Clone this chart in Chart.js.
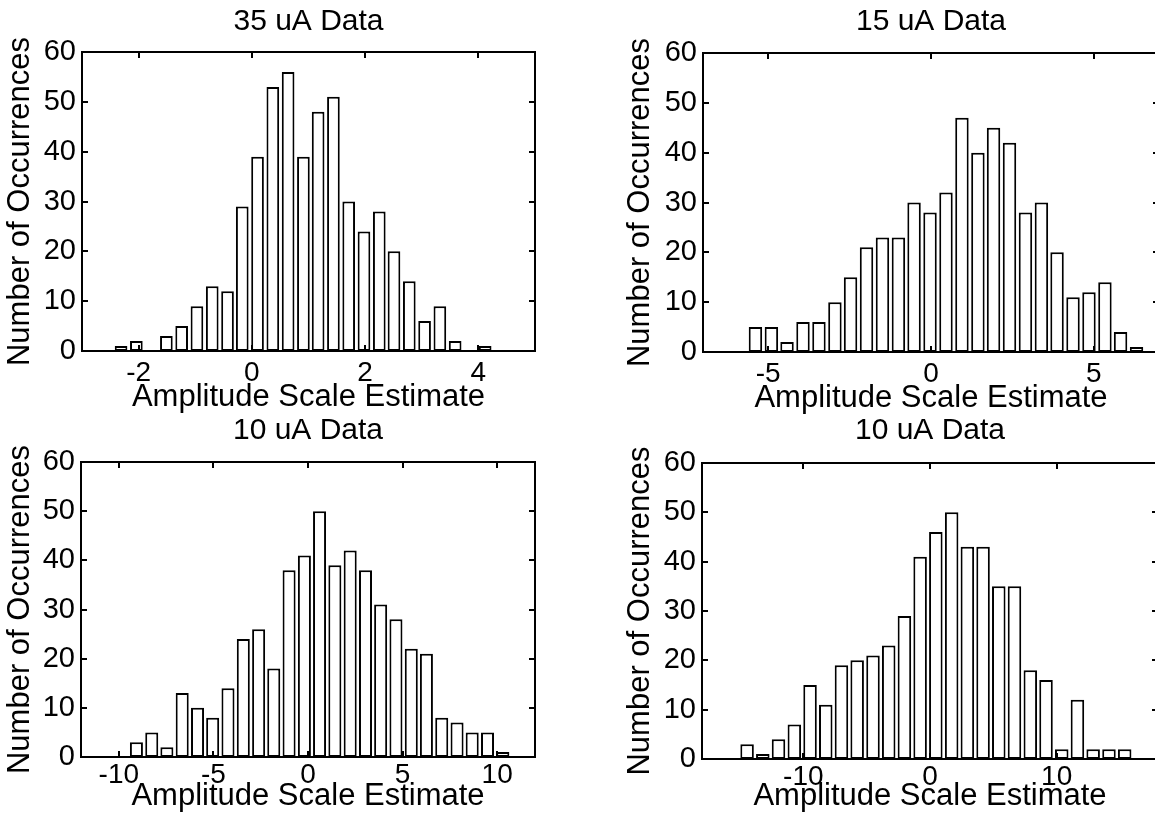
<!DOCTYPE html>
<html>
<head>
<meta charset="utf-8">
<script src="https://cdn.jsdelivr.net/npm/chart.js@4/dist/chart.umd.min.js"></script>
<style>
    html, body { margin: 0; padding: 0; background: #fff; overflow: hidden; }
    body { width: 1155px; height: 823px; position: relative; }
    canvas { position: absolute; }
</style>
</head>
<body>
<canvas id="p35" width="580" height="430"></canvas>
<canvas id="p15" width="580" height="430"></canvas>
<canvas id="p10a" width="580" height="430"></canvas>
<canvas id="p10b" width="580" height="430"></canvas>
<script>
// shared labels
const xLabel = 'Amplitude Scale Estimate';
const yLabel = 'Number of Occurrences';
const yTicks = [0, 10, 20, 30, 40, 50, 60];

// 35 uA
const title35 = '35 uA Data';
const centers35 = [-2.31, -2.04, -1.77, -1.51, -1.24, -0.97, -0.70, -0.43, -0.17, 0.10, 0.37, 0.64, 0.91,
    1.17, 1.44, 1.71, 1.98, 2.25, 2.51, 2.78, 3.05, 3.32, 3.59, 3.85, 4.12];
const counts35 = [1, 2, 0, 3, 5, 9, 13, 12, 29, 39, 53, 56, 39, 48, 51, 30, 24, 28, 20, 14, 6, 9, 2, 0, 1];
const xTicks35 = [-2, 0, 2, 4];
const xRange35 = [-3, 5];

// 15 uA
const title15 = '15 uA Data';
const centers15 = [-5.39, -4.90, -4.42, -3.93, -3.44, -2.95, -2.47, -1.98, -1.49, -1.00, -0.52, -0.03, 0.46,
    0.95, 1.44, 1.92, 2.41, 2.90, 3.39, 3.87, 4.36, 4.85, 5.34, 5.82, 6.31];
const counts15 = [5, 5, 2, 6, 6, 10, 15, 21, 23, 23, 30, 28, 32, 47, 40, 45, 42, 28, 30, 20, 11, 12, 14, 4, 1];
const xTicks15 = [-5, 0, 5];
const xRange15 = [-7, 7];

// 10 uA (first)
const title10a = '10 uA Data';
const centers10a = [-9.07, -8.26, -7.46, -6.65, -5.84, -5.04, -4.23, -3.42, -2.61, -1.81, -1.00, -0.19, 0.61,
    1.42, 2.23, 3.04, 3.84, 4.65, 5.46, 6.26, 7.07, 7.88, 8.68, 9.49, 10.30];
const counts10a = [3, 5, 2, 13, 10, 8, 14, 24, 26, 18, 38, 41, 50, 39, 42, 38, 31, 28, 22, 21, 8, 7, 5, 5, 1];
const xTicks10a = [-10, -5, 0, 5, 10];
const xRange10a = [-12, 12];

// 10 uA (second)
const title10b = '10 uA Data';
const centers10b = [-14.44, -13.20, -11.96, -10.71, -9.47, -8.23, -6.99, -5.75, -4.50, -3.26, -2.02, -0.78, 0.46,
    1.71, 2.95, 4.19, 5.43, 6.67, 7.92, 9.16, 10.40, 11.64, 12.88, 14.13, 15.37];
const counts10b = [3, 1, 4, 7, 15, 11, 19, 20, 21, 23, 29, 41, 46, 50, 43, 43, 35, 35, 18, 16, 2, 12, 2, 2, 2];
const xTicks10b = [-10, 0, 10];
const xRange10b = [-18, 18];

Chart.defaults.font.family = "'Liberation Sans', Arial, Helvetica, sans-serif";
Chart.defaults.color = '#000';

// box round the axes with inward ticks on all four sides
const boxPlugin = {
    id: 'box',
    afterDatasetsDraw(chart) {
        const { ctx, chartArea: a, scales: { x, y } } = chart;
        ctx.save();
        ctx.strokeStyle = '#000';
        ctx.lineWidth = 2;
        ctx.strokeRect(a.left, a.top, a.right - a.left, a.bottom - a.top);
        ctx.beginPath();
        x.ticks.forEach(t => {
            const px = Math.round(x.getPixelForValue(t.value));
            ctx.moveTo(px, a.bottom); ctx.lineTo(px, a.bottom - 6);
            ctx.moveTo(px, a.top); ctx.lineTo(px, a.top + 6);
        });
        y.ticks.forEach(t => {
            const py = Math.round(y.getPixelForValue(t.value));
            ctx.moveTo(a.left, py); ctx.lineTo(a.left + 6, py);
            ctx.moveTo(a.right, py); ctx.lineTo(a.right - 6, py);
        });
        ctx.stroke();
        ctx.restore();
    }
};

function makeHist(id, cfg) {
    const el = document.getElementById(id);
    el.style.left = cfg.left + 'px';
    el.style.top = cfg.top + 'px';

    const points = cfg.centers.map((c, i) => ({ x: c, y: cfg.counts[i] }));

    return new Chart(el, {
        type: 'bar',
        data: {
            datasets: [{
                data: points,
                backgroundColor: '#fff',
                borderColor: '#000',
                borderWidth: 2,
                borderSkipped: false,
                barPercentage: 0.86,
                categoryPercentage: 1
            }]
        },
        options: {
            responsive: false,
            animation: false,
            layout: { padding: { left: 0, top: 0, right: cfg.padRight, bottom: cfg.padBottom } },
            plugins: {
                legend: { display: false },
                tooltip: { enabled: false },
                title: {
                    display: true,
                    text: cfg.title,
                    fullSize: false,
                    font: { size: 30, weight: 'normal', lineHeight: 1 },
                    padding: { top: cfg.titleTop, bottom: cfg.titleBottom }
                }
            },
            scales: {
                x: {
                    type: 'linear',
                    min: cfg.range[0],
                    max: cfg.range[1],
                    offset: false,
                    grid: { display: false, drawTicks: false, offset: false },
                    border: { display: false },
                    afterBuildTicks: s => { s.ticks = cfg.ticks.map(v => ({ value: v })); },
                    afterFit: s => { s.height = cfg.xHeight; },
                    ticks: { font: { size: 28, lineHeight: 1 }, padding: cfg.xTickPad, maxRotation: 0 },
                    title: {
                        display: true,
                        text: xLabel,
                        font: { size: 31, lineHeight: 1 },
                        padding: 0
                    }
                },
                y: {
                    min: 0,
                    max: 60,
                    grid: { display: false, drawTicks: false },
                    border: { display: false },
                    afterBuildTicks: s => { s.ticks = yTicks.map(v => ({ value: v })); },
                    afterFit: s => { s.width = cfg.yWidth; },
                    ticks: { font: { size: 29, lineHeight: 1 }, padding: 6 },
                    title: {
                        display: true,
                        text: yLabel,
                        font: { size: 31, lineHeight: 1 },
                        padding: { top: 5, bottom: 0 }
                    }
                }
            }
        },
        plugins: [boxPlugin]
    });
}

makeHist('p35', {
    title: title35, centers: centers35, counts: counts35, ticks: xTicks35, range: xRange35,
    left: 0, top: 0, yWidth: 82, padRight: 45, titleTop: 7, titleBottom: 15,
    xHeight: 62, padBottom: 17, xTickPad: 8
});
makeHist('p15', {
    title: title15, centers: centers15, counts: counts15, ticks: xTicks15, range: xRange15,
    left: 620, top: 0, yWidth: 83, padRight: 41, titleTop: 7, titleBottom: 16,
    xHeight: 62, padBottom: 16, xTickPad: 8
});
makeHist('p10a', {
    title: title10a, centers: centers10a, counts: counts10a, ticks: xTicks10a, range: xRange10a,
    left: 0, top: 410, yWidth: 81, padRight: 45, titleTop: 6, titleBottom: 16,
    xHeight: 55, padBottom: 28, xTickPad: 4
});
makeHist('p10b', {
    title: title10b, centers: centers10b, counts: counts10b, ticks: xTicks10b, range: xRange10b,
    left: 620, top: 410, yWidth: 82, padRight: 42, titleTop: 6, titleBottom: 17,
    xHeight: 53, padBottom: 28, xTickPad: 4
});
</script>
</body>
</html>
